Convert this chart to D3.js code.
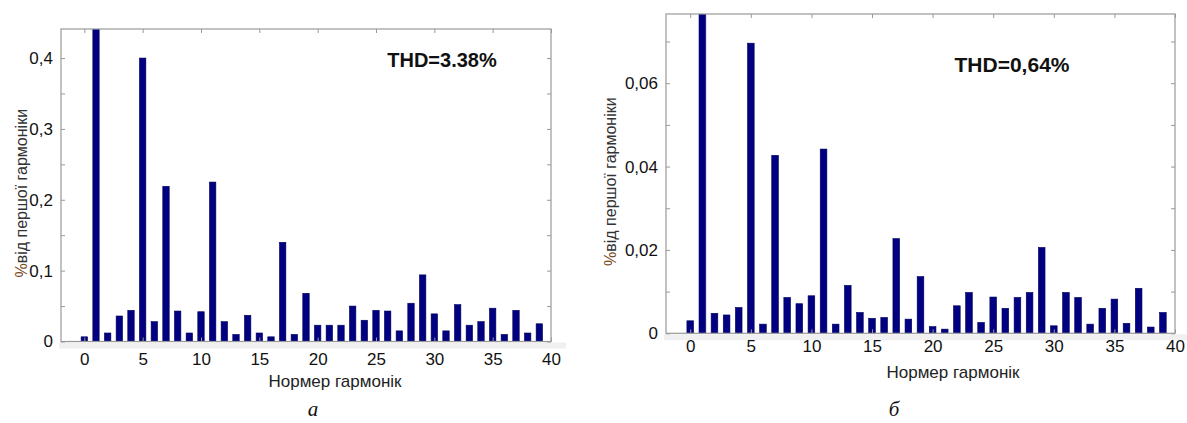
<!DOCTYPE html>
<html>
<head>
<meta charset="utf-8">
<script src="https://cdn.jsdelivr.net/npm/d3@7/dist/d3.min.js"></script>
<style>
  body { margin: 0; background: #fff; }
  svg { display: block; font-family: Arial, "Liberation Sans", sans-serif; }
</style>
</head>
<body>
<div id="chart"></div>
<script>
// номери гармонік
var harmonics = [0,1,2,3,4,5,6,7,8,9,10,11,12,13,14,15,16,17,18,19,
                 20,21,22,23,24,25,26,27,28,29,30,31,32,33,34,35,36,37,38,39];

// а) THD=3.38%
var valuesA = [0.0066,100,0.012,0.036,0.044,0.400,0.028,0.219,0.043,0.012,
               0.042,0.225,0.028,0.010,0.037,0.012,0.0066,0.140,0.010,0.068,
               0.023,0.023,0.023,0.050,0.030,0.044,0.043,0.015,0.054,0.094,
               0.039,0.015,0.052,0.023,0.028,0.047,0.010,0.044,0.012,0.025];

// б) THD=0,64%
var valuesB = [0.0030,100,0.0048,0.0044,0.0062,0.0696,0.0022,0.0427,0.0086,0.0071,
               0.0090,0.0442,0.0022,0.0115,0.0050,0.0036,0.0038,0.0227,0.0034,0.0136,
               0.0016,0.0010,0.0066,0.0098,0.0026,0.0087,0.0060,0.0086,0.0098,0.0206,
               0.0018,0.0098,0.0086,0.0022,0.0060,0.0082,0.0024,0.0108,0.0015,0.0050];

var xTicks = [0,5,10,15,20,25,30,35,40];
var yTicksA = [0,0.1,0.2,0.3,0.4];
var yMinorA = [0.05,0.15,0.25,0.35];
var yTicksB = [0,0.02,0.04,0.06];
var yMinorB = [0.01,0.03,0.05,0.07];

var W = 1187, H = 423;
var svg = d3.select("#chart").append("svg").attr("width", W).attr("height", H);

function fmt(d) {
    return d3.format("~g")(d).replace(".", ",");
}

function panel(o) {
    var x = d3.scaleLinear().domain([-2, 40]).range([o.left, o.right]);
    var y = d3.scaleLinear().domain([0, o.ymax]).range([o.bottom, o.top]);
    var g = svg.append("g");
    var bw = (x(1) - x(0)) * 0.55;

    //сірий фон під віссю
    g.append("rect").attr("x", o.left - 2).attr("y", o.bottom + 1)
        .attr("width", o.right - o.left + 17).attr("height", 6).attr("fill", "#f0f0f0");

    g.append("clipPath").attr("id", "clip" + o.id).append("rect")
        .attr("x", o.left).attr("y", o.top).attr("width", o.right - o.left).attr("height", o.bottom - o.top);

    g.append("g").attr("clip-path", "url(#clip" + o.id + ")")
        .selectAll("rect").data(o.values).enter().append("rect")
        .attr("x", function (d, i) { return x(harmonics[i]) - bw / 2; })
        .attr("y", function (d) { return y(d); })
        .attr("width", bw)
        .attr("height", function (d) { return y(0) - y(d); })
        .attr("fill", "#000080")
        .attr("stroke", "#00005a")
        .attr("stroke-width", 0.6);

    //рамка
    g.append("rect").attr("x", o.left).attr("y", o.top)
        .attr("width", o.right - o.left).attr("height", o.bottom - o.top)
        .attr("fill", "none").attr("stroke", "#999").attr("stroke-width", 1.2);

    //осі
    g.append("g").attr("transform", "translate(0," + o.bottom + ")")
        .call(d3.axisBottom(x).tickValues(xTicks).tickSize(-4).tickPadding(o.xPad).tickFormat(fmt));
    g.append("g").attr("transform", "translate(0," + o.top + ")")
        .call(d3.axisTop(x).tickValues(xTicks).tickSize(-4).tickFormat(""));
    g.append("g").attr("transform", "translate(" + o.left + ",0)")
        .call(d3.axisLeft(y).tickValues(o.yTicks).tickSize(-4).tickPadding(8).tickFormat(fmt));
    g.append("g").attr("transform", "translate(" + o.left + ",0)")
        .call(d3.axisLeft(y).tickValues(o.yMinor).tickSize(-4).tickFormat(""));
    g.append("g").attr("transform", "translate(" + o.right + ",0)")
        .call(d3.axisRight(y).tickValues(o.yTicks.concat(o.yMinor)).tickSize(-4).tickFormat(""));

    g.selectAll(".domain").remove();
    g.selectAll(".tick line").attr("stroke", "#999");
    g.selectAll(".tick text").attr("fill", "#111").attr("font-size", 17)
        .attr("font-family", "Arial, 'Liberation Sans', sans-serif");

    //THD
    g.append("text").attr("x", o.thdX).attr("y", o.thdY).attr("text-anchor", "middle")
        .attr("font-size", o.thdSize).attr("font-weight", "bold").attr("fill", "#111")
        .text(o.thd);

    //підпис осі Y
    var yl = g.append("text")
        .attr("transform", "translate(" + o.ylabX + "," + ((o.top + o.bottom) / 2 + 8) + ") rotate(-90)")
        .attr("text-anchor", "middle").attr("font-size", 16).attr("fill", "#333");
    yl.append("tspan").attr("fill", "#7a4a1a").text("%");
    yl.append("tspan").text("від першої гармоніки");

    //підпис осі X
    g.append("text").attr("x", o.xlabX).attr("y", o.xlabY).attr("text-anchor", "middle")
        .attr("font-size", 17).attr("fill", "#222").text("Нормер гармонік");

    //буква
    g.append("text").attr("x", o.letterX).attr("y", o.letterY).attr("text-anchor", "middle")
        .attr("font-family", "'Liberation Serif', 'DejaVu Serif', serif").attr("font-style", "italic")
        .attr("font-size", 21).attr("fill", "#111").text(o.letter);
}

panel({id: "a", values: valuesA, left: 61, right: 551, top: 29, bottom: 341.5, ymax: 0.441,
       yTicks: yTicksA, yMinor: yMinorA, xPad: 11,
       thd: "THD=3.38%", thdX: 442, thdY: 67, thdSize: 20,
       ylabX: 27, xlabX: 335, xlabY: 387, letter: "а", letterX: 313, letterY: 416});

panel({id: "b", values: valuesB, left: 666, right: 1175, top: 14, bottom: 333.3, ymax: 0.0766,
       yTicks: yTicksB, yMinor: yMinorB, xPad: 7,
       thd: "THD=0,64%", thdX: 1012, thdY: 72, thdSize: 21,
       ylabX: 616, xlabX: 953, xlabY: 378, letter: "б", letterX: 894, letterY: 416});
</script>
</body>
</html>
